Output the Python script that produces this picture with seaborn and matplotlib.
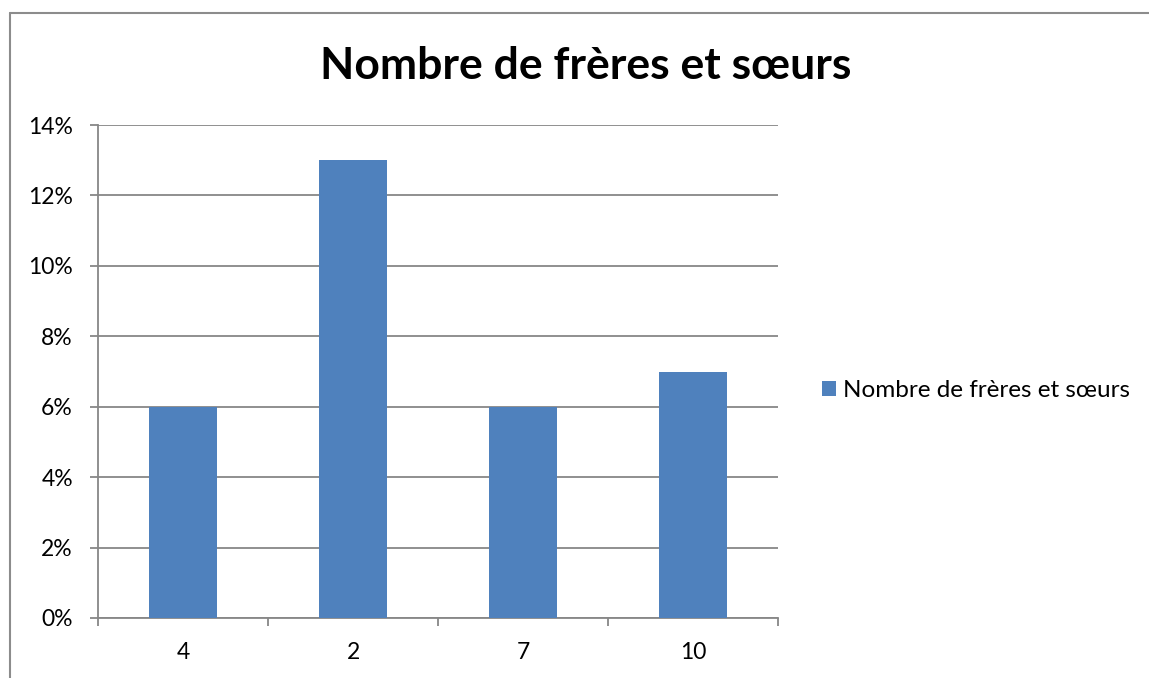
import matplotlib.pyplot as plt
import numpy as np
import pandas as pd
import seaborn as sns
from matplotlib.lines import Line2D
from matplotlib.patches import Patch

categories = ["4", "2", "7", "10"]
values = [6, 13, 6, 7]
y_ticks = [0, 2, 4, 6, 8, 10, 12, 14]
title = "Nombre de frères et sœurs"
series_name = "Nombre de frères et sœurs"

bar_color = "#4F81BD"
grid_color = "#878787"

sns.set_style("white")
plt.rcParams['font.family'] = ['Lato', 'DejaVu Sans']
plt.rcParams['text.color'] = 'black'
plt.rcParams['xtick.color'] = 'black'
plt.rcParams['ytick.color'] = 'black'

df = pd.DataFrame({'cat': categories, 'val': values})

fig = plt.figure(figsize = (11.49, 6.78), dpi = 100)
ax = fig.add_axes([98 / 1149, 1 - 618 / 678, 680 / 1149, 493 / 678])

sns.barplot(data = df, x = 'cat', y = 'val', color = bar_color, width = 0.4,
            saturation = 1, linewidth = 0, ax = ax, zorder = 3)

ax.set_ylim(0, 14)
ax.set_xlim(-0.5, len(categories) - 0.5)
ax.set_yticks(y_ticks)
ax.set_yticklabels([f'{t}%' for t in y_ticks])
ax.set_xlabel('')
ax.set_ylabel('')
ax.yaxis.grid(True, color = grid_color, linewidth = 1.3, zorder = 0)
ax.set_axisbelow(True)

for side in ['top', 'right']:
    ax.spines[side].set_visible(False)
for side in ['left', 'bottom']:
    ax.spines[side].set_color(grid_color)
    ax.spines[side].set_linewidth(1.3)

ax.tick_params(axis = 'y', which = 'major', length = 6, width = 1.3, color = grid_color,
               labelcolor = 'black', direction = 'out', left = True, labelsize = 16.5, pad = 12)
ax.set_xticks(np.arange(-0.5, len(categories)), minor = True)
ax.tick_params(axis = 'x', which = 'minor', length = 6, width = 1.3, color = grid_color,
               direction = 'out', bottom = True)
ax.tick_params(axis = 'x', which = 'major', length = 0, labelsize = 16.5, labelcolor = 'black', pad = 17)

fig.text(0.51, 0.903, title, ha = 'center', va = 'center', fontsize = 32, fontweight = 'bold',
         color = 'black')

handle = Patch(facecolor = bar_color, edgecolor = 'none')
fig.legend([handle], [series_name], loc = 'center left', bbox_to_anchor = (822 / 1149, 0.424),
           frameon = False, fontsize = 17.5, handlelength = 0.58, handleheight = 0.58,
           handletextpad = 0.3, borderaxespad = 0, borderpad = 0, labelcolor = 'black')

# outer chart border
fig.add_artist(Line2D([10 / 1149, 10 / 1149], [0, 1 - 13 / 678], transform = fig.transFigure,
                      color = '#8c8c8c', linewidth = 1.5))
fig.add_artist(Line2D([10 / 1149, 1.01], [1 - 13 / 678, 1 - 13 / 678], transform = fig.transFigure,
                      color = '#8c8c8c', linewidth = 1.5))

fig.savefig('out.png', dpi = 100)
